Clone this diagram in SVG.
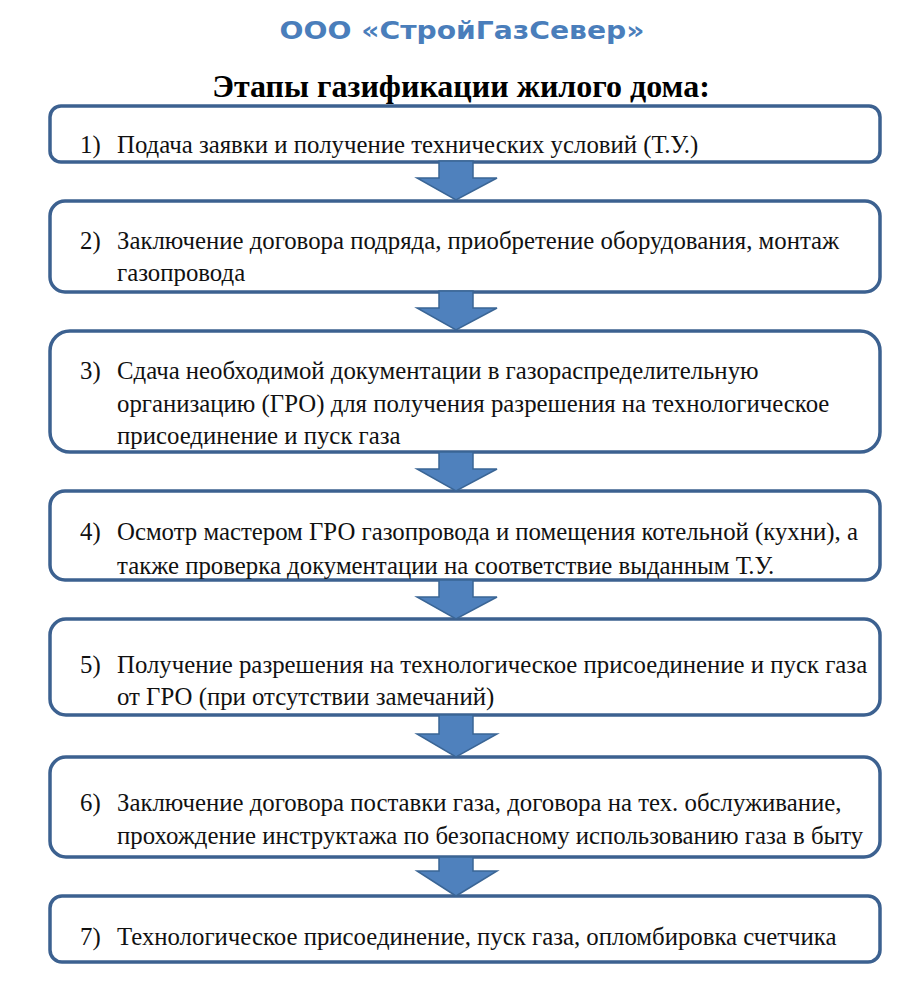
<svg xmlns="http://www.w3.org/2000/svg" width="922" height="1005" viewBox="0 0 922 1005">
<style>
.box{fill:#ffffff;stroke:#3c6190;stroke-width:3.5}
.t{font-family:'Liberation Serif','DejaVu Serif',serif;font-size:24.8px;fill:#111}
.arr{fill:#4f81bd;stroke:#3a6595;stroke-width:1.5;stroke-linejoin:miter}
</style>
<rect width="922" height="1005" fill="#ffffff"/>
<text x="462" y="39" text-anchor="middle" font-family="'DejaVu Sans',Verdana,sans-serif" font-weight="bold" font-size="25" fill="#4a7ebb" textLength="365" lengthAdjust="spacingAndGlyphs">ООО «СтройГазСевер»</text>
<text x="461" y="97" text-anchor="middle" font-family="'Liberation Serif','DejaVu Serif',serif" font-weight="bold" font-size="32" fill="#000">Этапы газификации жилого дома:</text>
<g id="n1"><rect class="box" x="50" y="106" width="830" height="56" rx="11"/>
<text class="t" y="153"><tspan x="80">1)</tspan><tspan x="117">Подача заявки и получение технических условий (Т.У.)</tspan></text></g>
<g id="n2"><rect class="box" x="50" y="201" width="830" height="91" rx="15"/>
<text class="t" y="249"><tspan x="80">2)</tspan><tspan x="117">Заключение договора подряда, приобретение оборудования, монтаж</tspan></text>
<text class="t" x="117" y="281">газопровода</text></g>
<g id="n3"><rect class="box" x="50" y="331" width="830" height="121" rx="20"/>
<text class="t" y="379"><tspan x="80">3)</tspan><tspan x="117">Сдача необходимой документации в газораспределительную</tspan></text>
<text class="t" x="117" y="412">организацию (ГРО) для получения разрешения на технологическое</text>
<text class="t" x="117" y="444">присоединение и пуск газа</text></g>
<g id="n4"><rect class="box" x="50" y="491" width="830" height="89" rx="15"/>
<text class="t" y="540"><tspan x="80">4)</tspan><tspan x="117">Осмотр мастером ГРО газопровода и помещения котельной (кухни), а</tspan></text>
<text class="t" x="117" y="574">также проверка документации на соответствие выданным Т.У.</text></g>
<g id="n5"><rect class="box" x="50" y="619" width="830" height="96" rx="16"/>
<text class="t" y="673"><tspan x="80">5)</tspan><tspan x="117">Получение разрешения на технологическое присоединение и пуск газа</tspan></text>
<text class="t" x="117" y="705">от ГРО (при отсутствии замечаний)</text></g>
<g id="n6"><rect class="box" x="50" y="757" width="830" height="100" rx="16"/>
<text class="t" y="811"><tspan x="80">6)</tspan><tspan x="117">Заключение договора поставки газа, договора на тех. обслуживание,</tspan></text>
<text class="t" x="117" y="844">прохождение инструктажа по безопасному использованию газа в быту</text></g>
<g id="n7"><rect class="box" x="50" y="896" width="830" height="66" rx="12"/>
<text class="t" y="945"><tspan x="80">7)</tspan><tspan x="117">Технологическое присоединение, пуск газа, опломбировка счетчика</tspan></text></g>
<g id="connectors">
<polygon class="arr" points="439,161 473,161 473,178 497,178 456,200 417,178 439,178"/>
<polygon class="arr" points="439,291 473,291 473,308 497,308 456,330 417,308 439,308"/>
<polygon class="arr" points="439,452 473,452 473,469 497,469 456,491 417,469 439,469"/>
<polygon class="arr" points="439,580 473,580 473,597 497,597 456,619 417,597 439,597"/>
<polygon class="arr" points="439,715 473,715 473,734 497,734 456,757 417,734 439,734"/>
<polygon class="arr" points="439,857 473,857 473,871 497,871 456,896 417,871 439,871"/>
</g>
</svg>
